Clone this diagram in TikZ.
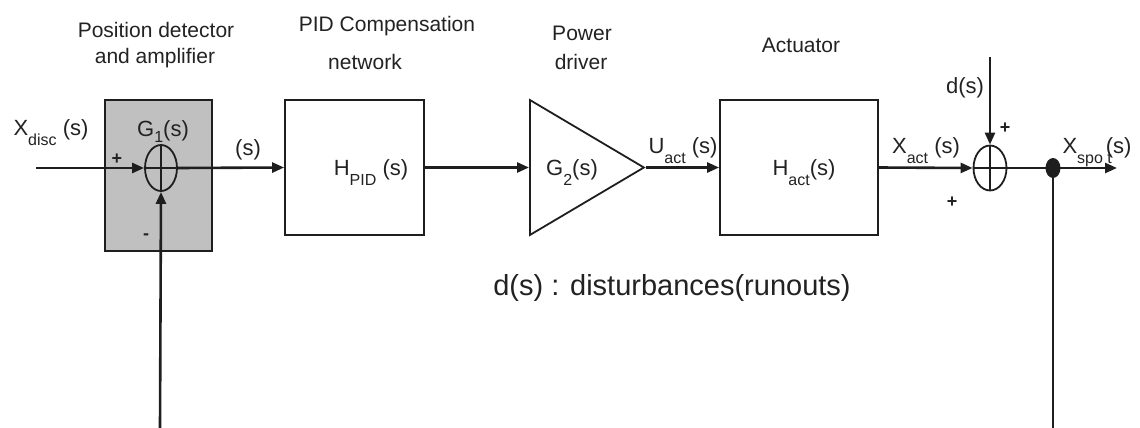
\documentclass[tikz,border=0pt]{standalone}
\usepackage{fontspec}
\setmainfont{Liberation Sans}
\usepackage{tikz}
\usetikzlibrary{arrows.meta,positioning,shapes.geometric}
\definecolor{bdLine}{RGB}{30,30,30}
\definecolor{bdText}{RGB}{34,34,34}
\definecolor{bdGray}{RGB}{192,192,192}
\newcommand{\lo}[1]{\raisebox{-5pt}{\fontsize{8}{9}\selectfont #1}}

\begin{document}
\begin{tikzpicture}[
  x=0.5pt, y=-0.5pt,
  font=\fontsize{11}{13}\selectfont, text=bdText,
  blk/.style={draw=bdLine, line width=0.9pt, minimum height=67.5pt, inner sep=0pt},
  sum/.style={ellipse, draw=bdLine, line width=0.9pt, minimum width=16pt, minimum height=23pt, inner sep=0pt},
  ttl/.style={font=\fontsize{10.5}{12}\selectfont, anchor=base, inner sep=0pt},
  lbl/.style={anchor=base, inner sep=0pt},
  sgn/.style={font=\fontsize{9}{10}\selectfont\bfseries, inner sep=0pt},
  sig/.style={draw=bdLine, line width=1.3pt},
  ar/.style={sig, -{Triangle[length=6pt,width=5pt]}}
]
\useasboundingbox (0,0) rectangle (1140,428);

% blocks
\node[blk, fill=bdGray, minimum width=53.5pt, minimum height=75.5pt] (det) at (158.5,175.5) {};
\node[blk, minimum width=69.5pt] (pid) at (354.5,167.5) {};
\node[blk, minimum width=79pt] (act) at (799,167.5) {};
\node[isosceles triangle, isosceles triangle stretches, shape border rotate=0, draw=bdLine, line width=0.9pt,
  minimum width=67.5pt, minimum height=57pt, inner sep=0pt, anchor=lower side] (drv) at (529,167.5) {};

% summing points
\node[sum] (s1) at (161,168) {};
\node[sum, minimum width=16.5pt, minimum height=22.5pt] (s2) at (990,168) {};
\draw[bdLine, line width=0.8pt] (s1.north) -- (s1.south) (s1.west) -- (s1.east);
\draw[bdLine, line width=0.8pt] (s2.north) -- (s2.south) (s2.west) -- (s2.east);

% free ends
\coordinate (xin) at (36,168);
\coordinate (din) at (990,57);
\coordinate (xout) at (1117,168);
\coordinate (fbl) at (160,428);
\coordinate (fbr) at (1053,428);
\node[ellipse, fill=bdLine, minimum width=7.5pt, minimum height=10pt, inner sep=0pt] (tap) at (1053,168) {};

% signals
\draw[ar] (xin) -- (s1.west);
\draw[ar] (s1.east) -- (pid.west);
\draw[ar] (pid.east) -- (drv.lower side);
\draw[ar] (drv.apex) -- (act.west);
\draw[ar] (act.east) -- (s2.west);
\draw[ar] (din) -- (s2.north);
\draw[ar] (s2.east) -- (xout);
\draw[ar] (fbl) -- (s1.south);
\draw[sig] (tap) -- (fbr);

% titles
\node[ttl] (t1) at (156,37) {Position detector};
\node[ttl] (t2) at (155,63) {and amplifier};
\node[ttl] (t3) at (387,32) {PID Compensation};
\node[ttl] (t4) at (365,69) {network};
\node[ttl] (t5) at (582,40) {Power};
\node[ttl] (t6) at (581,69) {driver};
\node[ttl] (t7) at (801,52) {Actuator};

% signal labels
\node[lbl] (lxin) at (51,135) {X\lo{disc} (s)};
\node[lbl] (lg1) at (163,136) {G\raisebox{-3pt}{\fontsize{8}{9}\selectfont 1}(s)};
\node[lbl] (le) at (248,155) {(s)};
\node[lbl] (lpid) at (371,175) {H\lo{PID} (s)};
\node[lbl] (lg2) at (572,175) {G\lo{2}(s)};
\node[lbl] (lu) at (683,153) {U\lo{act} (s)};
\node[lbl] (lact) at (804,175) {H\lo{act}(s)};
\node[lbl] (lxa) at (926,153) {X\lo{act} (s)};
\node[lbl] (ld) at (965,93) {d(s)};
\node[lbl] (lxs) at (1097,153) {X\lo{spo t}\kern-3pt(s)};
\node[sgn] (p1) at (117,159) {+};
\node[sgn] (m1) at (146,237) {-};
\node[sgn] (p2) at (1005,128) {+};
\node[sgn] (p3) at (952,202) {+};

\node[lbl, font=\fontsize{14.5}{17}\selectfont] (note) at (672,295) {d(s) : disturbances(runouts)};
\end{tikzpicture}
\end{document}
